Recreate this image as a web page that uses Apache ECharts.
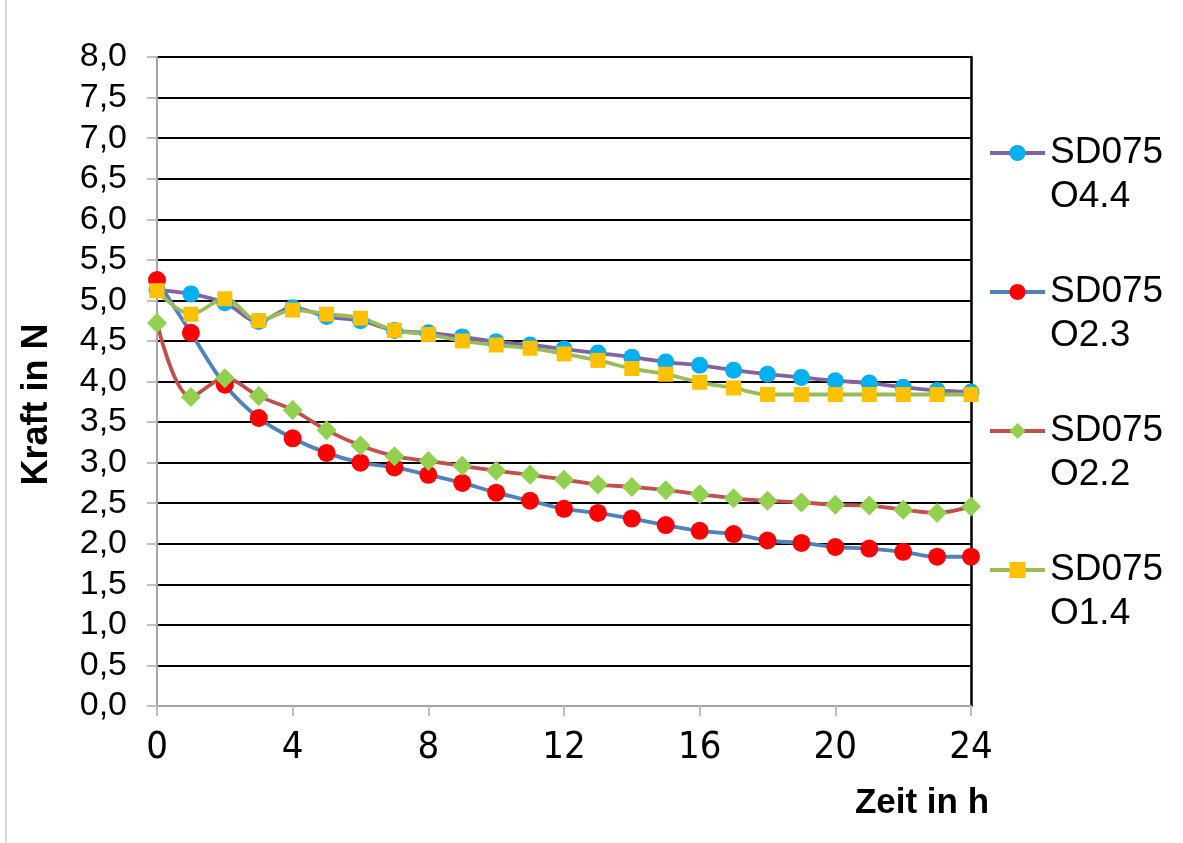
<!DOCTYPE html>
<html>
<head>
<meta charset="utf-8">
<script src="https://cdn.jsdelivr.net/npm/echarts@6/dist/echarts.min.js"></script>
<style>
  html, body { margin: 0; padding: 0; background: #ffffff; }
  #chart { width: 1183px; height: 843px; }
</style>
</head>
<body>
<div id="chart"></div>
<script>
// ---- data ----
const hours = [0,1,2,3,4,5,6,7,8,9,10,11,12,13,14,15,16,17,18,19,20,21,22,23,24];
const seriesNames = ['SD075\nO4.4', 'SD075\nO2.3', 'SD075\nO2.2', 'SD075\nO1.4'];
const o44 = [5.13,5.08,4.97,4.74,4.91,4.80,4.75,4.63,4.60,4.55,4.49,4.45,4.40,4.35,4.30,4.24,4.20,4.14,4.09,4.05,4.01,3.98,3.93,3.89,3.87];
const o23 = [5.25,4.60,3.96,3.55,3.30,3.12,3.00,2.94,2.85,2.75,2.63,2.53,2.43,2.38,2.31,2.23,2.16,2.12,2.04,2.01,1.96,1.94,1.90,1.84,1.84];
const o22 = [4.72,3.81,4.04,3.82,3.65,3.40,3.21,3.08,3.02,2.96,2.90,2.85,2.79,2.73,2.70,2.66,2.61,2.56,2.53,2.51,2.48,2.47,2.42,2.38,2.46];
const o14 = [5.12,4.83,5.02,4.75,4.88,4.83,4.78,4.63,4.58,4.50,4.45,4.41,4.34,4.26,4.16,4.09,3.99,3.92,3.84,3.84,3.84,3.84,3.84,3.84,3.84];
const xTicks = [0,4,8,12,16,20,24];
const yAxisTitle = 'Kraft in N';
const xAxisTitle = 'Zeit in h';

const pairs = arr => hours.map((h, i) => [h, arr[i]]);

const styles = [
  { line: '#8064A2', marker: '#00B0F0', symbol: 'circle',  size: 17 },
  { line: '#4F81BD', marker: '#FF0000', symbol: 'circle',  size: 18 },
  { line: '#C0504D', marker: '#92D050', symbol: 'diamond', size: 20 },
  { line: '#9BBB59', marker: '#FFC000', symbol: 'rect',    size: 15 }
];
const values = [o44, o23, o22, o14];

const series = values.map((v, i) => ({
  name: seriesNames[i],
  type: 'line',
  data: pairs(v),
  smooth: 0.35,
  symbol: styles[i].symbol,
  symbolSize: styles[i].size,
  showAllSymbol: true,
  lineStyle: { color: styles[i].line, width: 3.8 },
  itemStyle: { color: styles[i].marker, borderWidth: 0 },
  emphasis: { disabled: true },
  animation: false
}));

const chart = echarts.init(document.getElementById('chart'), null, { renderer: 'canvas' });
chart.setOption({
  backgroundColor: '#ffffff',
  animation: false,
  grid: { left: 157, right: 212, top: 57, bottom: 137, containLabel: false },
  legend: {
    orient: 'vertical',
    left: 988,
    top: 87,
    padding: 0,
    itemGap: 7,
    itemWidth: 55,
    itemHeight: 20,
    data: seriesNames,
    formatter: name => ' \n' + name,
    lineStyle: { width: 4 },
    textStyle: {
      fontFamily: "'Liberation Sans', Arial, sans-serif",
      fontSize: 37,
      lineHeight: 44,
      color: '#000000'
    }
  },
  xAxis: {
    type: 'value',
    min: 0,
    max: 24,
    interval: 4,
    name: xAxisTitle,
    nameLocation: 'middle',
    nameGap: 77,
    nameTextStyle: {
      fontFamily: "'Liberation Sans', Arial, sans-serif",
      fontSize: 35,
      fontWeight: 'bold',
      color: '#000000',
      lineHeight: 40,
      padding: [0, 0, 0, 716]
    },
    axisLine: { show: true, lineStyle: { color: '#A6A6A6', width: 2 } },
    axisTick: { show: true, length: 10, lineStyle: { color: '#BFBFBF', width: 2 } },
    splitLine: { show: false },
    axisLabel: {
      margin: 23,
      fontFamily: "'Liberation Sans Narrow', 'Arial Narrow', 'DejaVu Sans Condensed', 'Liberation Sans', Arial, sans-serif",
      fontSize: 38,
      lineHeight: 38,
      color: '#000000',
      customValues: xTicks
    },
    axisPointer: { show: false }
  },
  yAxis: [{
    type: 'value',
    min: 0,
    max: 8,
    interval: 0.5,
    name: yAxisTitle,
    nameLocation: 'middle',
    nameGap: 102,
    nameRotate: 90,
    nameTextStyle: {
      fontFamily: "'Liberation Sans', Arial, sans-serif",
      fontSize: 36,
      fontWeight: 'bold',
      color: '#000000',
      padding: [0, 46, 0, 0]
    },
    axisLine: { show: true, lineStyle: { color: '#A6A6A6', width: 2 } },
    axisTick: { show: true, inside: false, length: 10, lineStyle: { color: '#BFBFBF', width: 2 } },
    splitLine: { show: true, lineStyle: { color: '#000000', width: 2 } },
    axisLabel: {
      margin: 30,
      fontFamily: "'Liberation Sans', Arial, sans-serif",
      fontSize: 34,
      color: '#000000',
      formatter: v => v.toFixed(1).replace('.', ',')
    }
  }, {
    type: 'value',
    position: 'right',
    min: 0,
    max: 8,
    interval: 0.5,
    axisLine: { show: true, lineStyle: { color: '#000000', width: 2.5 } },
    axisTick: { show: false },
    axisLabel: { show: false },
    splitLine: { show: false }
  }],
  graphic: [{
    type: 'line',
    shape: { x1: 6, y1: 0, x2: 6, y2: 843 },
    style: { stroke: '#D9D9D9', lineWidth: 2 },
    silent: true
  }],
  series: series
});
</script>
</body>
</html>
